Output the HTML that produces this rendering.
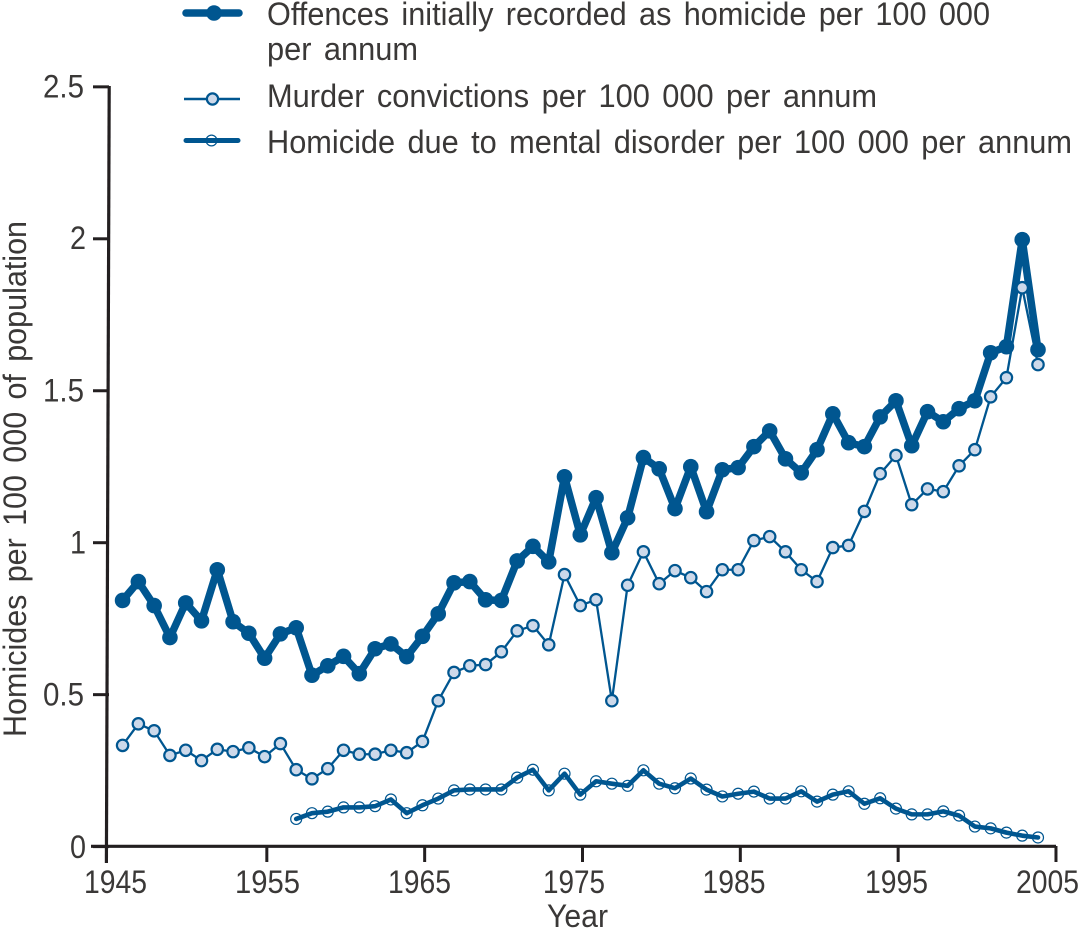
<!DOCTYPE html>
<html lang="en">
<head>
<meta charset="utf-8">
<title>Homicide rates 1945-2005</title>
<style>
html,body{margin:0;padding:0;background:#fff;width:1081px;height:930px;overflow:hidden}
svg{display:block}
text{font-family:"Liberation Sans",sans-serif;font-size:32px;fill:#3a3837;word-spacing:4px}
</style>
</head>
<body>
<svg id="chart" width="1081" height="930" viewBox="0 0 1081 930" xmlns="http://www.w3.org/2000/svg">
  <g id="axes"></g>
  <g id="series"></g>

  <g>
    <text x="43" y="97.5" textLength="41" lengthAdjust="spacingAndGlyphs">2.5</text>
    <text x="70" y="249" textLength="16" lengthAdjust="spacingAndGlyphs">2</text>
    <text x="43" y="401.5" textLength="41" lengthAdjust="spacingAndGlyphs">1.5</text>
    <text x="70" y="553.5" textLength="16" lengthAdjust="spacingAndGlyphs">1</text>
    <text x="43" y="705.5" textLength="41" lengthAdjust="spacingAndGlyphs">0.5</text>
    <text x="70" y="858" textLength="16" lengthAdjust="spacingAndGlyphs">0</text>
  </g>
  <g>
    <text x="84" y="893" textLength="63" lengthAdjust="spacingAndGlyphs">1945</text>
    <text x="235" y="893" textLength="65" lengthAdjust="spacingAndGlyphs">1955</text>
    <text x="388" y="893" textLength="63" lengthAdjust="spacingAndGlyphs">1965</text>
    <text x="543" y="893" textLength="62" lengthAdjust="spacingAndGlyphs">1975</text>
    <text x="702.5" y="893" textLength="63" lengthAdjust="spacingAndGlyphs">1985</text>
    <text x="865" y="893" textLength="63" lengthAdjust="spacingAndGlyphs">1995</text>
    <text x="1016" y="893" textLength="63" lengthAdjust="spacingAndGlyphs">2005</text>
  </g>
  <text x="547" y="927" textLength="61" lengthAdjust="spacingAndGlyphs">Year</text>
  <text transform="translate(26,737) rotate(-90)" textLength="516" lengthAdjust="spacingAndGlyphs">Homicides per 100 000 of population</text>

  <g>
    <g>
      <line x1="186" y1="13" x2="239" y2="13" stroke="#005690" stroke-width="7.5" stroke-linecap="round"/>
      <circle cx="214" cy="13" r="7.8" fill="#005690"/>
      <text x="267" y="25" textLength="723" lengthAdjust="spacingAndGlyphs">Offences initially recorded as homicide per 100 000</text>
      <text x="267" y="60" textLength="151" lengthAdjust="spacingAndGlyphs">per annum</text>
    </g>
    <g>
      <line x1="184" y1="99" x2="240" y2="99" stroke="#005690" stroke-width="2.4"/>
      <circle cx="212.5" cy="99" r="5.6" fill="#cdd9ea" stroke="#005690" stroke-width="2.2"/>
      <text x="267" y="107" textLength="610" lengthAdjust="spacingAndGlyphs">Murder convictions per 100 000 per annum</text>
    </g>
    <g>
      <circle cx="211.5" cy="140.5" r="5.4" fill="#fff" stroke="#005690" stroke-width="1.2"/>
      <line x1="186" y1="140.5" x2="238" y2="140.5" stroke="#005690" stroke-width="5" stroke-linecap="round"/>
      <text x="267" y="153" textLength="805" lengthAdjust="spacingAndGlyphs">Homicide due to mental disorder per 100 000 per annum</text>
    </g>
  </g>
</svg>
<script>
// Chart data
const xTickYears = [1945, 1955, 1965, 1975, 1985, 1995, 2005];
const yTickValues = [0, 0.5, 1, 1.5, 2, 2.5];

const offencesStartYear = 1946;
const offencesValues = [
  0.81, 0.872, 0.793, 0.688, 0.802, 0.743, 0.911, 0.74, 0.702, 0.62,
  0.70, 0.72, 0.564, 0.595, 0.626, 0.569, 0.651, 0.667, 0.625, 0.692,
  0.766, 0.868, 0.872, 0.812, 0.81, 0.94, 0.988, 0.937, 1.217, 1.026,
  1.148, 0.967, 1.082, 1.28, 1.243, 1.112, 1.25, 1.102, 1.24, 1.247,
  1.316, 1.368, 1.276, 1.23, 1.306, 1.424, 1.329, 1.316, 1.414, 1.467,
  1.319, 1.431, 1.398, 1.441, 1.467, 1.625, 1.645, 1.997, 1.635
];

const murderStartYear = 1946;
const murderValues = [
  0.333, 0.404, 0.381, 0.30, 0.317, 0.283, 0.32, 0.3125, 0.325, 0.296,
  0.339, 0.253, 0.223, 0.2565, 0.317, 0.304, 0.304, 0.317, 0.309, 0.346,
  0.48, 0.573, 0.595, 0.599, 0.641, 0.71, 0.727, 0.664, 0.895, 0.793,
  0.8125, 0.48, 0.86, 0.97, 0.865, 0.908, 0.885, 0.839, 0.911, 0.911,
  1.007, 1.02, 0.97, 0.911, 0.872, 0.984, 0.991, 1.103, 1.227, 1.287,
  1.125, 1.177, 1.168, 1.253, 1.306, 1.48, 1.543, 1.839, 1.586
];

const mentalStartYear = 1957;
const mentalValues = [
  0.091, 0.11, 0.115, 0.129, 0.129, 0.133, 0.155, 0.11, 0.136, 0.158,
  0.185, 0.188, 0.188, 0.188, 0.227, 0.253, 0.185, 0.24, 0.171, 0.215,
  0.207, 0.2, 0.251, 0.207, 0.192, 0.224, 0.1875, 0.165, 0.174, 0.181,
  0.158, 0.158, 0.182, 0.148, 0.171, 0.182, 0.141, 0.159, 0.125, 0.106,
  0.106, 0.116, 0.102, 0.066, 0.06, 0.046, 0.036, 0.03
];

const SVG_NS = 'http://www.w3.org/2000/svg';
const BLUE = '#005690';
const INK = '#231f20';

// Axis functions
function xAxis(year) { return 109 + (year - 1945) * 15.783; }
function xData(year) { return xAxis(year) - 2.2; }
function yAxis(value) { return 846.6 - value * 303.9; }

function make(tag, attrs) {
  const el = document.createElementNS(SVG_NS, tag);
  Object.keys(attrs).forEach(function (k) { el.setAttribute(k, attrs[k]); });
  return el;
}

const axes = document.getElementById('axes');
const seriesLayer = document.getElementById('series');

const yLine = make('line', { x1: 109.2, y1: 86, x2: 106.4, y2: 863, stroke: INK, 'stroke-width': 3.2 });


axes.appendChild(yLine);

const xLine = make('line', { x1: 91, y1: 846.3, x2: 1056, y2: 846.3, stroke: INK, 'stroke-width': 3.2 });


axes.appendChild(xLine);

yTickValues.forEach(function (v) {
  const t = make('line', { x1: 93, y1: yAxis(v), x2: 109, y2: yAxis(v), stroke: INK, 'stroke-width': 3 });
  
  
  axes.appendChild(t);
});

xTickYears.forEach(function (yr) {
  if (yr === xTickYears[0]) return; // the first tick is the extended y-axis line
  const t = make('line', { x1: xAxis(yr), y1: 846, x2: xAxis(yr), y2: 862, stroke: INK, 'stroke-width': 3 });
  
  
  axes.appendChild(t);
});

function pointsOf(startYear, values) {
  return values.map(function (v, i) { return xData(startYear + i) + ',' + yAxis(v); }).join(' ');
}

// Offences
const offencesLine = make('polyline', { points: pointsOf(offencesStartYear, offencesValues), fill: 'none', stroke: BLUE, 'stroke-width': 7.5, 'stroke-linejoin': 'round' });


seriesLayer.appendChild(offencesLine);
offencesValues.forEach(function (v, i) {
  const c = make('circle', { cx: xData(offencesStartYear + i), cy: yAxis(v), r: 7.8, fill: BLUE });
  
  
  seriesLayer.appendChild(c);
});

// Murder convictions
const murderLine = make('polyline', { points: pointsOf(murderStartYear, murderValues), fill: 'none', stroke: BLUE, 'stroke-width': 2.3, 'stroke-linejoin': 'round' });


seriesLayer.appendChild(murderLine);
murderValues.forEach(function (v, i) {
  const c = make('circle', { cx: xData(murderStartYear + i), cy: yAxis(v), r: 5.7, fill: '#cdd9ea', stroke: BLUE, 'stroke-width': 2.2 });
  
  
  seriesLayer.appendChild(c);
});

// Homicide due to mental disorder
mentalValues.forEach(function (v, i) {
  const c = make('circle', { cx: xData(mentalStartYear + i), cy: yAxis(v), r: 5.5, fill: '#fff', stroke: BLUE, 'stroke-width': 1.2 });
  
  
  seriesLayer.appendChild(c);
});
const mentalLine = make('polyline', { points: pointsOf(mentalStartYear, mentalValues), fill: 'none', stroke: BLUE, 'stroke-width': 4.6, 'stroke-linejoin': 'round', 'stroke-linecap': 'round' });


seriesLayer.appendChild(mentalLine);
</script>
</body>
</html>
